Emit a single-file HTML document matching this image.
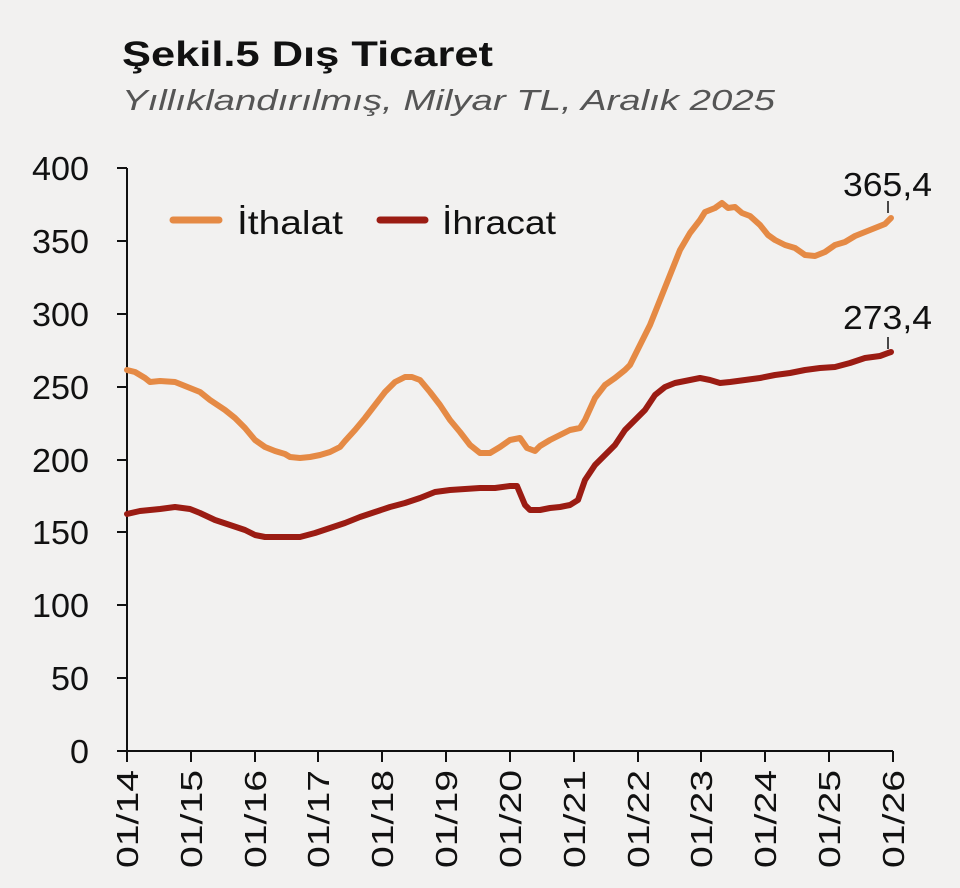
<!DOCTYPE html>
<html><head><meta charset="utf-8"><style>
html,body{margin:0;padding:0;background:#f2f1f0;}
svg{display:block;font-family:"Liberation Sans","DejaVu Sans",sans-serif;}
</style></head><body>
<svg width="960" height="888" viewBox="0 0 960 888" xmlns="http://www.w3.org/2000/svg">
<rect width="960" height="888" fill="#f2f1f0"/>
<text x="122" y="66" font-size="35" font-weight="bold" fill="#111" textLength="371" lengthAdjust="spacingAndGlyphs">Şekil.5 Dış Ticaret</text>
<text x="122" y="110" font-size="29" font-style="italic" fill="#555" textLength="653" lengthAdjust="spacingAndGlyphs">Yıllıklandırılmış, Milyar TL, Aralık 2025</text>
<g stroke="#111" stroke-width="2" fill="none">
<line x1="127" y1="168" x2="127" y2="751"/>
<line x1="127" y1="751" x2="893" y2="751"/>
<path d="M117 168H127M117 241H127M117 314H127M117 387H127M117 460H127M117 532H127M117 605H127M117 678H127M117 751H127"/>
<path d="M127 751V762M191 751V762M255 751V762M318 751V762M382 751V762M446 751V762M510 751V762M574 751V762M638 751V762M701 751V762M765 751V762M829 751V762M893 751V762"/>
<path d="M888 201V213M888 337V349" stroke-width="1.5"/>
</g>
<g font-size="33" fill="#111" text-anchor="end">
<text x="89" y="180" textLength="57" lengthAdjust="spacingAndGlyphs">400</text>
<text x="89" y="253" textLength="57" lengthAdjust="spacingAndGlyphs">350</text>
<text x="89" y="326" textLength="57" lengthAdjust="spacingAndGlyphs">300</text>
<text x="89" y="399" textLength="57" lengthAdjust="spacingAndGlyphs">250</text>
<text x="89" y="472" textLength="57" lengthAdjust="spacingAndGlyphs">200</text>
<text x="89" y="544" textLength="57" lengthAdjust="spacingAndGlyphs">150</text>
<text x="89" y="617" textLength="57" lengthAdjust="spacingAndGlyphs">100</text>
<text x="89" y="690" textLength="38" lengthAdjust="spacingAndGlyphs">50</text>
<text x="89" y="763" textLength="19" lengthAdjust="spacingAndGlyphs">0</text>
</g>
<g font-size="31" fill="#111" text-anchor="end">
<text transform="translate(138,770) rotate(-90)" textLength="98" lengthAdjust="spacingAndGlyphs">01/14</text>
<text transform="translate(202,770) rotate(-90)" textLength="98" lengthAdjust="spacingAndGlyphs">01/15</text>
<text transform="translate(266,770) rotate(-90)" textLength="98" lengthAdjust="spacingAndGlyphs">01/16</text>
<text transform="translate(329,770) rotate(-90)" textLength="98" lengthAdjust="spacingAndGlyphs">01/17</text>
<text transform="translate(393,770) rotate(-90)" textLength="98" lengthAdjust="spacingAndGlyphs">01/18</text>
<text transform="translate(457,770) rotate(-90)" textLength="98" lengthAdjust="spacingAndGlyphs">01/19</text>
<text transform="translate(521,770) rotate(-90)" textLength="98" lengthAdjust="spacingAndGlyphs">01/20</text>
<text transform="translate(585,770) rotate(-90)" textLength="98" lengthAdjust="spacingAndGlyphs">01/21</text>
<text transform="translate(649,770) rotate(-90)" textLength="98" lengthAdjust="spacingAndGlyphs">01/22</text>
<text transform="translate(712,770) rotate(-90)" textLength="98" lengthAdjust="spacingAndGlyphs">01/23</text>
<text transform="translate(776,770) rotate(-90)" textLength="98" lengthAdjust="spacingAndGlyphs">01/24</text>
<text transform="translate(840,770) rotate(-90)" textLength="98" lengthAdjust="spacingAndGlyphs">01/25</text>
<text transform="translate(904,770) rotate(-90)" textLength="98" lengthAdjust="spacingAndGlyphs">01/26</text>
</g>
<polyline fill="none" stroke="#e58a45" stroke-width="6" stroke-linejoin="round" stroke-linecap="round" points="127,370 135,372 145,378 150,382 160,381 175,382 190,388 200,392 210,400 225,410 235,418 245,428 255,440 265,447 275,451 285,454 290,457 300,458 310,457 320,455 330,452 340,447 345,441 355,430 365,418 375,405 385,392 395,382 405,377 412,377 420,380 430,392 440,405 450,420 460,432 470,445 480,453 490,453 500,447 510,440 520,438 527,448 535,451 540,446 550,440 560,435 570,430 580,428 585,420 595,398 605,385 615,378 625,370 630,365 640,345 650,325 660,300 670,275 680,250 690,233 700,220 705,212 715,208 722,203 728,208 735,207 742,213 750,216 760,225 768,235 775,240 785,245 795,248 805,255 815,256 825,252 835,245 845,242 855,236 865,232 875,228 885,224 891,218"/>
<polyline fill="none" stroke="#9b1c13" stroke-width="6" stroke-linejoin="round" stroke-linecap="round" points="127,514 140,511 160,509 175,507 190,509 200,513 215,520 230,525 245,530 255,535 265,537 275,537 285,537 300,537 315,533 330,528 345,523 360,517 375,512 390,507 405,503 420,498 435,492 450,490 465,489 480,488 495,488 510,486 517,486 525,505 530,510 540,510 550,508 560,507 570,505 578,500 585,480 595,465 605,455 615,445 625,430 635,420 645,410 655,395 665,387 675,383 690,380 700,378 710,380 720,383 730,382 745,380 760,378 775,375 790,373 805,370 820,368 835,367 850,363 865,358 880,356 891,352"/>
<text x="932" y="196" font-size="33" fill="#111" text-anchor="end" textLength="89" lengthAdjust="spacingAndGlyphs">365,4</text>
<text x="932" y="329" font-size="33" fill="#111" text-anchor="end" textLength="89" lengthAdjust="spacingAndGlyphs">273,4</text>
<line x1="173" y1="220" x2="219" y2="220" stroke="#e58a45" stroke-width="7" stroke-linecap="round"/>
<text x="237" y="234" font-size="33" fill="#111" textLength="106" lengthAdjust="spacingAndGlyphs">İthalat</text>
<line x1="380" y1="220" x2="425" y2="220" stroke="#9b1c13" stroke-width="7" stroke-linecap="round"/>
<text x="442" y="234" font-size="33" fill="#111" textLength="114" lengthAdjust="spacingAndGlyphs">İhracat</text>
</svg>
</body></html>
